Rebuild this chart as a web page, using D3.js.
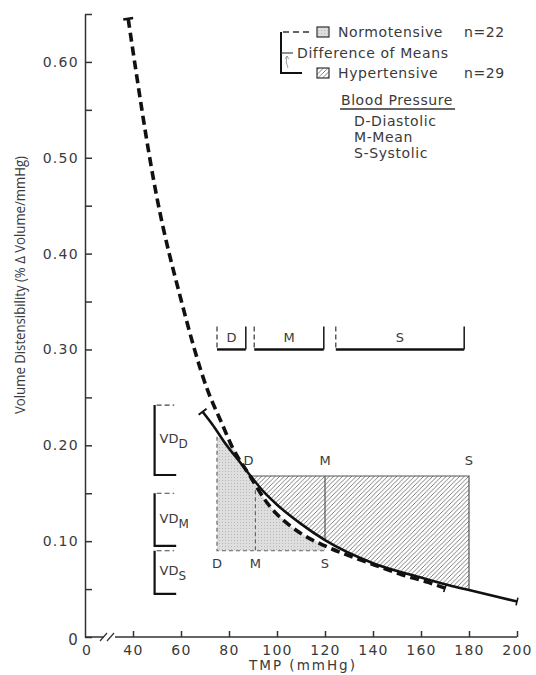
<!DOCTYPE html>
<html>
<head>
<meta charset="utf-8">
<script src="https://cdn.jsdelivr.net/npm/d3@7"></script>
<style>
  body { margin: 0; background: #fff; }
  svg { display: block; }
  text { font-family: 'DejaVu Sans', sans-serif; fill: #3a3a3a; }
  .tick text { font-size: 14px; letter-spacing: 1.3px; }
</style>
</head>
<body>
<div id="chart"></div>
<script>
// Normotensive mean curve (dashed)
var normoTMP = [38, 50, 60, 71, 77, 81, 89, 95, 100, 105, 110, 120, 132, 143, 152, 163, 170];
var normoVD = [0.645, 0.458, 0.352, 0.258, 0.223, 0.200, 0.167, 0.143, 0.128, 0.117, 0.108, 0.095, 0.083, 0.073, 0.065, 0.057, 0.051];

// Hypertensive mean curve (solid)
var hyperTMP = [69, 73, 79, 85, 89, 95, 100, 110, 120, 140, 160, 170, 180, 200];
var hyperVD = [0.235, 0.222, 0.200, 0.181, 0.168, 0.150, 0.138, 0.118, 0.101, 0.077, 0.062, 0.055, 0.049, 0.037];

// Blood pressure levels (D, M, S) and VD at those levels
var bpLabels = ['D', 'M', 'S'];
var normoBP = [75, 91, 120];
var hyperBP = [89, 120, 180];
var normoVDatBP = [0.209, 0.153, 0.090];
var hyperVDatBP = [0.168, 0.101, 0.049];

// Range brackets along the top (TMP, mmHg)
var rangeLo = [75, 90.5, 124.5];
var rangeHi = [87, 119.5, 178];

// Difference-of-means brackets on the left (VD)
var vdTop = [0.242, 0.150, 0.090];
var vdBottom = [0.169, 0.095, 0.045];

var xTicks = [40, 60, 80, 100, 120, 140, 160, 180, 200];
var yTicks = [0, 0.05, 0.10, 0.15, 0.20, 0.25, 0.30, 0.35, 0.40, 0.45, 0.50, 0.55, 0.60, 0.65];

var svg = d3.select('#chart').append('svg')
  .attr('width', 536)
  .attr('height', 675);

var x = d3.scaleLinear().domain([40, 200]).range([133, 517]);
var y = d3.scaleLinear().domain([0, 0.65]).range([637, 14]);
var x0 = 85;   // position of the broken-axis origin

var defs = svg.append('defs');
var hatch = defs.append('pattern')
  .attr('id', 'hatch').attr('patternUnits', 'userSpaceOnUse')
  .attr('width', 4.5).attr('height', 4.5);
hatch.append('path')
  .attr('d', 'M-1,1 l2,-2 M0,4.5 l4.5,-4.5 M3.5,5.5 l2,-2')
  .attr('stroke', '#5e5e5e').attr('stroke-width', 0.8);
var stip = defs.append('pattern')
  .attr('id', 'stipple').attr('patternUnits', 'userSpaceOnUse')
  .attr('width', 3).attr('height', 3);
stip.append('rect').attr('width', 3).attr('height', 3).attr('fill', '#dedede');
stip.append('rect').attr('width', 1).attr('height', 1).attr('fill', '#b8b8b8');

var line = d3.line()
  .x(function(d) { return x(d[0]); })
  .y(function(d) { return y(d[1]); })
  .curve(d3.curveMonotoneX);
var poly = d3.line()
  .x(function(d) { return x(d[0]); })
  .y(function(d) { return y(d[1]); });

var normo = d3.zip(normoTMP, normoVD);
var hyper = d3.zip(hyperTMP, hyperVD);

// Normotensive shaded region (under dashed curve, D to S)
var grayPts = [[normoBP[0], normoVDatBP[2]], [normoBP[0], normoVDatBP[0]]]
  .concat(normo.filter(function(d) { return d[0] > 80 && d[0] <= normoBP[2]; }))
  .concat([[normoBP[2], normoVDatBP[2]]]);
svg.append('path')
  .attr('d', poly(grayPts) + 'Z')
  .attr('fill', 'url(#stipple)');

// Hypertensive hatched region (above solid curve, D to S)
var hatchPts = [[hyperBP[0], hyperVDatBP[0]], [hyperBP[2], hyperVDatBP[0]]]
  .concat(hyper.filter(function(d) { return d[0] >= hyperBP[0] && d[0] <= hyperBP[2]; }).reverse());
svg.append('path')
  .attr('d', poly(hatchPts) + 'Z')
  .attr('fill', 'url(#hatch)');

// Outlines of the hatched region
svg.append('path')
  .attr('d', 'M' + x(hyperBP[0]) + ',' + y(hyperVDatBP[0]) + 'H' + x(hyperBP[2]) + 'V' + y(hyperVDatBP[2]))
  .attr('fill', 'none').attr('stroke', '#555').attr('stroke-width', 1.2);
svg.append('line')
  .attr('x1', x(hyperBP[1])).attr('x2', x(hyperBP[1]))
  .attr('y1', y(hyperVDatBP[0])).attr('y2', y(hyperVDatBP[1]))
  .attr('stroke', '#555').attr('stroke-width', 1.2);

// Dashed outlines of the gray region
var dashStyle = function(sel) {
  sel.attr('fill', 'none').attr('stroke', '#666')
    .attr('stroke-width', 1.2).attr('stroke-dasharray', '4,3');
};
svg.append('path')
  .attr('d', 'M' + x(normoBP[0]) + ',' + y(normoVDatBP[0]) + 'V' + y(normoVDatBP[2]) + 'H' + x(normoBP[2]))
  .call(dashStyle);
svg.append('line')
  .attr('x1', x(normoBP[1])).attr('x2', x(normoBP[1]))
  .attr('y1', y(normoVDatBP[1])).attr('y2', y(normoVDatBP[2]))
  .call(dashStyle);

// Curves
svg.append('path').datum(hyper)
  .attr('d', line)
  .attr('fill', 'none').attr('stroke', '#111').attr('stroke-width', 2.6);
svg.append('path').datum(normo)
  .attr('d', line)
  .attr('fill', 'none').attr('stroke', '#111').attr('stroke-width', 3.6)
  .attr('stroke-dasharray', '9,5');

// End caps on the curves
function cap(pt, next, len, w) {
  var px = x(pt[0]), py = y(pt[1]);
  var dx = x(next[0]) - px, dy = y(next[1]) - py;
  var n = Math.sqrt(dx * dx + dy * dy);
  var ux = -dy / n * len, uy = dx / n * len;
  svg.append('line')
    .attr('x1', px - ux).attr('y1', py - uy)
    .attr('x2', px + ux).attr('y2', py + uy)
    .attr('stroke', '#111').attr('stroke-width', w);
}
cap(normo[0], normo[1], 5, 2.5);
cap(hyper[0], hyper[1], 5, 2);
cap(hyper[hyper.length - 1], hyper[hyper.length - 2], 4, 1.6);
cap(normo[normo.length - 1], normo[normo.length - 2], 4, 1.6);

// D / M / S point labels
svg.selectAll('.hlab').data(bpLabels).enter()
  .append('text').attr('class', 'hlab')
  .attr('x', function(d, i) { return x(hyperBP[i]) - (i == 0 ? 2 : 0); })
  .attr('y', y(hyperVDatBP[0]) - 11)
  .attr('text-anchor', 'middle').style('font-size', '13px')
  .text(function(d) { return d; });
svg.selectAll('.nlab').data(bpLabels).enter()
  .append('text').attr('class', 'nlab')
  .attr('x', function(d, i) { return x(normoBP[i]); })
  .attr('y', y(normoVDatBP[2]) + 17)
  .attr('text-anchor', 'middle').style('font-size', '13px')
  .text(function(d) { return d; });

// Range brackets at VD = 0.30
var by = y(0.30);
var ranges = svg.selectAll('.range').data(bpLabels).enter()
  .append('g').attr('class', 'range');
ranges.append('line')
  .attr('x1', function(d, i) { return x(rangeLo[i]); })
  .attr('x2', function(d, i) { return x(rangeHi[i]); })
  .attr('y1', by).attr('y2', by)
  .attr('stroke', '#111').attr('stroke-width', 2.4);
ranges.append('line')
  .attr('x1', function(d, i) { return x(rangeLo[i]); })
  .attr('x2', function(d, i) { return x(rangeLo[i]); })
  .attr('y1', by - 23).attr('y2', by)
  .attr('stroke', '#333').attr('stroke-width', 1.2).attr('stroke-dasharray', '5,3');
ranges.append('line')
  .attr('x1', function(d, i) { return x(rangeHi[i]); })
  .attr('x2', function(d, i) { return x(rangeHi[i]); })
  .attr('y1', by - 23).attr('y2', by)
  .attr('stroke', '#222').attr('stroke-width', 1.6);
ranges.append('text')
  .attr('x', function(d, i) { return (x(rangeLo[i]) + x(rangeHi[i])) / 2; })
  .attr('y', by - 7)
  .attr('text-anchor', 'middle').style('font-size', '13px')
  .text(function(d) { return d; });

// VD difference brackets on the left
var bx1 = x(49), bx2 = x(58);
var vds = svg.selectAll('.vd').data(bpLabels).enter()
  .append('g').attr('class', 'vd');
vds.append('path')
  .attr('d', function(d, i) {
    return 'M' + bx1 + ',' + y(vdTop[i]) + 'V' + y(vdBottom[i]) + 'H' + bx2;
  })
  .attr('fill', 'none').attr('stroke', '#111').attr('stroke-width', 2.2);
vds.append('line')
  .attr('x1', bx1 + 2).attr('x2', bx2 - 2)
  .attr('y1', function(d, i) { return y(vdTop[i]); })
  .attr('y2', function(d, i) { return y(vdTop[i]); })
  .attr('stroke', '#444').attr('stroke-width', 1.2).attr('stroke-dasharray', '5,3');
var vdText = vds.append('text')
  .attr('x', bx1 + 5)
  .attr('y', function(d, i) { return (y(vdTop[i]) + y(vdBottom[i])) / 2 + 3; })
  .style('font-size', '13px');
vdText.append('tspan').text('VD');
vdText.append('tspan').attr('dy', 5).style('font-size', '12px')
  .text(function(d) { return d; });

// Y axis (ticks point inward)
svg.append('g')
  .attr('transform', 'translate(' + x0 + ',0)')
  .call(d3.axisLeft(y).tickValues(yTicks)
    .tickSizeInner(-7).tickSizeOuter(0).tickPadding(6)
    .tickFormat(function(d, i) {
      if (d == 0) return '0';
      return i % 2 == 0 ? d3.format('.2f')(d) : '';
    }))
  .call(function(g) {
    g.selectAll('path, line').attr('stroke', '#333').attr('stroke-width', 1.5);
    g.selectAll('text').attr('fill', '#3a3a3a');
    g.selectAll('.tick text').filter(function(d) { return d == 0; })
      .attr('x', -6).attr('dy', '0.5em').style('font-size', '15px');
  });

// X axis with a break near the origin
var xAxis = svg.append('g')
  .attr('transform', 'translate(0,' + y(0) + ')')
  .call(d3.axisBottom(x).tickValues(xTicks)
    .tickSizeInner(-6).tickSizeOuter(0).tickPadding(8));
xAxis.select('.domain').remove();
xAxis.selectAll('line').attr('stroke', '#333').attr('stroke-width', 1.5);
xAxis.selectAll('text').attr('fill', '#3a3a3a');
xAxis.append('path')
  .attr('d', 'M' + x0 + ',0H' + (x0 + 19) + 'M' + (x0 + 30) + ',0H' + x(200))
  .attr('stroke', '#333').attr('stroke-width', 1.5);
xAxis.append('path')
  .attr('d', 'M' + (x0 + 15) + ',4L' + (x0 + 22) + ',-4M' + (x0 + 22) + ',4L' + (x0 + 29) + ',-4')
  .attr('stroke', '#333').attr('stroke-width', 1.2);
xAxis.append('text')
  .attr('x', x0 + 2).attr('y', 8).attr('dy', '0.71em')
  .attr('text-anchor', 'middle')
  .style('font-size', '14px').style('letter-spacing', '1.3px')
  .text('0');

// Axis titles
svg.append('text')
  .attr('x', 303).attr('y', 670)
  .attr('text-anchor', 'middle')
  .style('font-size', '13.5px').style('letter-spacing', '2px')
  .text('TMP (mmHg)');
svg.append('text')
  .attr('transform', 'translate(25,285) rotate(-90)')
  .attr('text-anchor', 'middle')
  .attr('textLength', 258).attr('lengthAdjust', 'spacingAndGlyphs')
  .style('font-family', "'Open Sans', sans-serif").style('font-size', '14.5px')
  .text('Volume  Distensibility  (% \u0394 Volume/mmHg)');

// Legend
var leg = svg.append('g');
leg.append('path')
  .attr('d', 'M281,32V73H302')
  .attr('fill', 'none').attr('stroke', '#111').attr('stroke-width', 2);
leg.append('path')
  .attr('d', 'M283,32H310')
  .attr('stroke', '#333').attr('stroke-width', 1.5).attr('stroke-dasharray', '6,4');
leg.append('path')
  .attr('d', 'M281,53H293')
  .attr('stroke', '#444').attr('stroke-width', 1.2);
leg.append('path')
  .attr('d', 'M288,68Q285,62 287,56M285,59L287,56L289,59')
  .attr('fill', 'none').attr('stroke', '#888').attr('stroke-width', 0.8);
leg.append('rect')
  .attr('x', 317).attr('y', 27).attr('width', 12).attr('height', 10)
  .attr('fill', 'url(#stipple)').attr('stroke', '#333').attr('stroke-width', 1.2);
leg.append('rect')
  .attr('x', 317).attr('y', 68).attr('width', 12).attr('height', 10)
  .attr('fill', 'url(#hatch)').attr('stroke', '#333').attr('stroke-width', 1.2);

var legRows = [
  { t: 'Normotensive', x: 338, y: 37 },
  { t: 'n=22', x: 464, y: 37 },
  { t: 'Difference of Means', x: 297, y: 58 },
  { t: 'Hypertensive', x: 338, y: 78 },
  { t: 'n=29', x: 464, y: 78 },
  { t: 'D-Diastolic', x: 354, y: 126 },
  { t: 'M-Mean', x: 354, y: 142 },
  { t: 'S-Systolic', x: 354, y: 158 }
];
leg.selectAll('.lt').data(legRows).enter()
  .append('text').attr('class', 'lt')
  .attr('x', function(d) { return d.x; })
  .attr('y', function(d) { return d.y; })
  .style('font-size', '14px').style('letter-spacing', '0.6px')
  .text(function(d) { return d.t; });
leg.append('text')
  .attr('x', 397).attr('y', 105)
  .attr('text-anchor', 'middle')
  .style('font-size', '14px').style('letter-spacing', '0.6px')
  .text('Blood Pressure');
leg.append('line')
  .attr('x1', 340).attr('x2', 455).attr('y1', 109).attr('y2', 109)
  .attr('stroke', '#333').attr('stroke-width', 1.5);
</script>
</body>
</html>
